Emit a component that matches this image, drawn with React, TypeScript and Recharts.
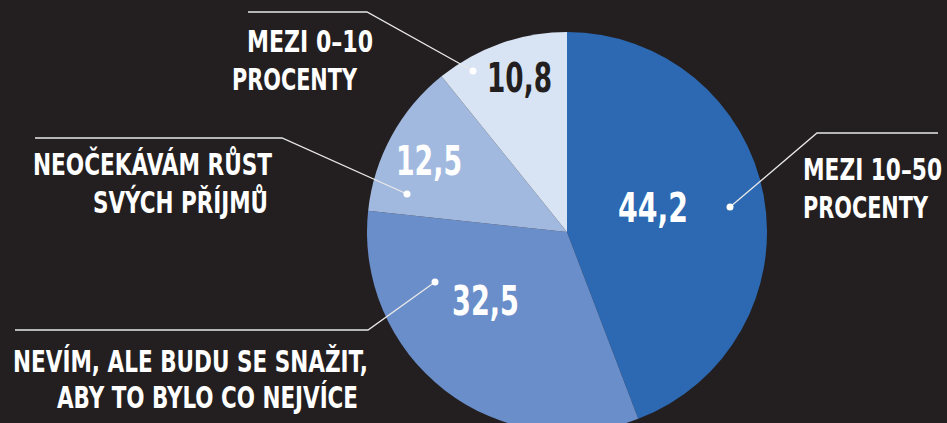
import React from 'react';
import { PieChart, Pie, Cell } from 'recharts';

const categories = [
  'MEZI 10–50 PROCENTY',
  'NEVÍM, ALE BUDU SE SNAŽIT, ABY TO BYLO CO NEJVÍCE',
  'NEOČEKÁVÁM RŮST SVÝCH PŘÍJMŮ',
  'MEZI 0–10 PROCENTY',
];
const values = [44.2, 32.5, 12.5, 10.8];
const labelLines = [
  ['MEZI 10–50', 'PROCENTY'],
  ['NEVÍM, ALE BUDU SE SNAŽIT,', 'ABY TO BYLO CO NEJVÍCE'],
  ['NEOČEKÁVÁM RŮST', 'SVÝCH PŘÍJMŮ'],
  ['MEZI 0–10', 'PROCENTY'],
];

const colors = ['#2c69b2', '#6a8ec9', '#a2b9df', '#d8e4f3'];
const valueColors = ['#ffffff', '#ffffff', '#ffffff', '#231f20'];
const BG = '#231f20';
const FONT = '"DejaVu Sans Condensed", "DejaVu Sans", sans-serif';

// layout offsets relative to the pie centre (dx is the text's right edge)
const layout = [
  {
    value: { dx: 86, dy: -10, w: 70 },
    dot: [163, -25], elbow: [250, -99], end: [371, -99],
    lines: [{ dx: 375, dy: -52, w: 139 }, { dx: 361, dy: -14, w: 125 }],
  },
  {
    value: { dx: -81.5, dy: 83, w: 67 },
    dot: [-132, 50], elbow: [-199, 98], end: [-552, 98],
    lines: [{ dx: -199, dy: 140, w: 355 }, { dx: -209, dy: 176, w: 301 }],
  },
  {
    value: { dx: -138, dy: -57, w: 66 },
    dot: [-160, -38], elbow: [-285, -94], end: [-532, -94],
    lines: [{ dx: -295, dy: -57, w: 239 }, { dx: -299, dy: -19, w: 175 }],
  },
  {
    value: { dx: -47.5, dy: -140, w: 65 },
    dot: [-94, -161], elbow: [-200, -220], end: [-319, -220],
    lines: [{ dx: -194, dy: -180, w: 126 }, { dx: -210, dy: -142, w: 125 }],
  },
];

const data = categories.map((name, i) => ({ name, value: values[i] }));

const renderLabel = (props: any) => {
  const { cx, cy, index } = props;
  const l = layout[index];
  const fmt = values[index].toFixed(1).replace('.', ',');
  return (
    <g key={`lbl-${index}`}>
      <polyline
        points={`${cx + l.dot[0]},${cy + l.dot[1]} ${cx + l.elbow[0]},${cy + l.elbow[1]} ${cx + l.end[0]},${cy + l.end[1]}`}
        fill="none"
        stroke="#e8e8e8"
        strokeWidth={1.3}
      />
      <circle cx={cx + l.dot[0]} cy={cy + l.dot[1]} r={3.5} fill="#ffffff" />
      <text
        x={cx + l.value.dx}
        y={cy + l.value.dy}
        textAnchor="middle"
        fill={valueColors[index]}
        fontFamily={FONT}
        fontWeight="bold"
        fontSize={41}
        textLength={l.value.w}
        lengthAdjust="spacingAndGlyphs"
      >
        {fmt}
      </text>
      {labelLines[index].map((t, j) => (
        <text
          key={j}
          x={cx + l.lines[j].dx}
          y={cy + l.lines[j].dy}
          textAnchor="end"
          fill="#ffffff"
          fontFamily={FONT}
          fontWeight="bold"
          fontSize={30}
          textLength={l.lines[j].w}
          lengthAdjust="spacingAndGlyphs"
        >
          {t}
        </text>
      ))}
    </g>
  );
};

export default function App() {
  return (
    <div style={{ width: 947, height: 423, background: BG, overflow: 'hidden' }}>
      <style>{`body{margin:0;background:${BG}}`}</style>
      <PieChart width={947} height={423} margin={{ top: 0, right: 0, bottom: 0, left: 0 }}>
        <Pie
          data={data}
          dataKey="value"
          nameKey="name"
          cx={567}
          cy={232}
          outerRadius={200}
          startAngle={90}
          endAngle={-270}
          stroke="none"
          label={renderLabel}
          labelLine={false}
          isAnimationActive={false}
        >
          {data.map((d, i) => (
            <Cell key={d.name} fill={colors[i]} />
          ))}
        </Pie>
      </PieChart>
    </div>
  );
}
